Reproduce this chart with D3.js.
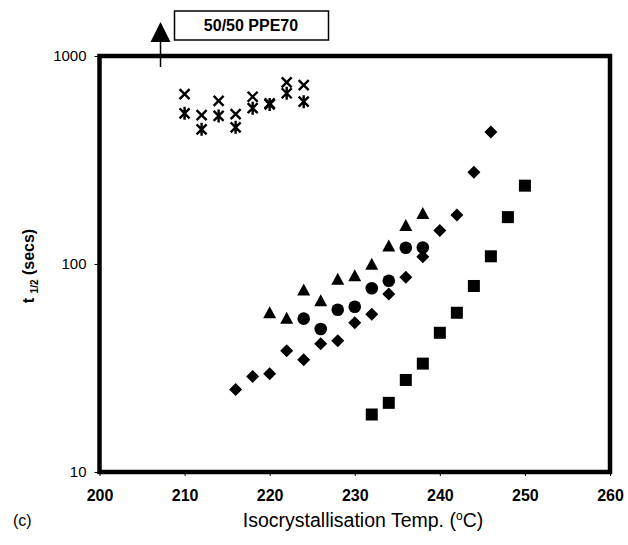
<!DOCTYPE html>
<html><head><meta charset="utf-8">
<script src="https://cdn.jsdelivr.net/npm/d3@7"></script>
<style>
body{margin:0;background:#fff;}
svg{display:block;font-family:"Liberation Sans",Arial,sans-serif;}
</style></head>
<body><svg id="c" width="628" height="545"></svg>
<script>
// ---- data ----
const xTicks = [200, 210, 220, 230, 240, 250, 260];
const yTicks = [10, 100, 1000];

const crossT = [210, 212, 214, 216, 218, 220, 222, 224];
const crossV = [656, 520, 608, 525, 637, 592, 747, 725];

const starT = [210, 212, 214, 216, 218, 220, 222, 224];
const starV = [530, 444, 515, 454, 561, 585, 662, 603];

const triT = [220, 222, 224, 226, 228, 230, 232, 234, 236, 238];
const triV = [58.3, 54.8, 75, 66.6, 84.4, 87.8, 99.7, 122, 153, 175];

const circT = [224, 226, 228, 230, 232, 234, 236, 238];
const circV = [54.6, 48.7, 60.3, 62.3, 76.4, 83.1, 119.8, 120];

const diaT = [216, 218, 220, 222, 224, 226, 228, 230, 232, 234, 236, 238, 240, 242, 244, 246];
const diaV = [24.9, 28.8, 29.7, 38.3, 34.6, 41.4, 42.8, 52.2, 57.3, 71.8, 86.3, 108.4, 145, 172, 276, 431];

const sqT = [232, 234, 236, 238, 240, 242, 244, 246, 248, 250];
const sqV = [18.9, 21.5, 27.7, 33.2, 46.7, 58.3, 78.4, 108.9, 168, 238];

const boxLabel = "50/50 PPE70";
const xTitle = "Isocrystallisation Temp. (";
const panelLabel = "(c)";

// ---- drawing ----
const svg = d3.select("#c");
const L = 99.5, R = 610, T = 56, B = 472;
const x = d3.scaleLinear().domain([200, 260]).range([L, R]);
const y = d3.scaleLog().domain([10, 1000]).range([B, T]);

// axes
const gx = svg.append("g").attr("transform", `translate(0,${B})`)
  .call(d3.axisBottom(x).tickValues(xTicks).tickFormat(d3.format("d")).tickSize(4).tickPadding(14));
const gy = svg.append("g").attr("transform", `translate(${L},0)`)
  .call(d3.axisLeft(y).tickValues(yTicks).tickFormat(d3.format("d")).tickSize(5).tickPadding(8));
[gx, gy].forEach(g => {
  g.select(".domain").remove();
  g.selectAll("line").attr("stroke", "#000").attr("stroke-width", 1);
  g.selectAll("text").attr("fill", "#000")
   .attr("font-family", '"Liberation Sans",Arial,sans-serif');
});
gx.selectAll("text").attr("font-size", 16).attr("font-weight", "bold");
gy.selectAll("text").attr("font-size", 15);

// frame
svg.append("rect").attr("x", L).attr("y", T).attr("width", R - L).attr("height", B - T)
  .attr("fill", "none").attr("stroke", "#000").attr("stroke-width", 4.5);

// markers
const pts = (T_, V_) => T_.map((t, i) => ({t, v: V_[i]}));
const g = svg.append("g");

g.selectAll(".sq").data(pts(sqT, sqV)).join("rect")
  .attr("x", d => x(d.t) - 6).attr("y", d => y(d.v) - 6)
  .attr("width", 12).attr("height", 12).attr("fill", "#000");

g.selectAll(".dia").data(pts(diaT, diaV)).join("path")
  .attr("d", d => { const cx = x(d.t), cy = y(d.v), r = 6.5;
    return `M${cx},${cy - r}L${cx + r},${cy}L${cx},${cy + r}L${cx - r},${cy}Z`; })
  .attr("fill", "#000");

g.selectAll(".circ").data(pts(circT, circV)).join("circle")
  .attr("cx", d => x(d.t)).attr("cy", d => y(d.v)).attr("r", 6.3).attr("fill", "#000");

g.selectAll(".tri").data(pts(triT, triV)).join("path")
  .attr("d", d => { const cx = x(d.t), cy = y(d.v);
    return `M${cx},${cy - 6.5}L${cx + 6.5},${cy + 5.5}L${cx - 6.5},${cy + 5.5}Z`; })
  .attr("fill", "#000");

g.selectAll(".cross").data(pts(crossT, crossV)).join("path")
  .attr("d", d => { const cx = x(d.t), cy = y(d.v), r = 5;
    return `M${cx - r},${cy - r}L${cx + r},${cy + r}M${cx + r},${cy - r}L${cx - r},${cy + r}`; })
  .attr("stroke", "#000").attr("stroke-width", 2.4).attr("fill", "none");

g.selectAll(".star").data(pts(starT, starV)).join("path")
  .attr("d", d => { const cx = x(d.t), cy = y(d.v), r = 5;
    return `M${cx - r},${cy - r}L${cx + r},${cy + r}M${cx + r},${cy - r}L${cx - r},${cy + r}M${cx},${cy - 6.5}L${cx},${cy + 6.5}`; })
  .attr("stroke", "#000").attr("stroke-width", 2.4).attr("fill", "none");

// annotation box + arrow
svg.append("rect").attr("x", 174.5).attr("y", 11).attr("width", 154).attr("height", 29)
  .attr("fill", "#fff").attr("stroke", "#000").attr("stroke-width", 1.5);
svg.append("text").attr("x", 251).attr("y", 31).attr("text-anchor", "middle")
  .attr("font-size", 16).attr("font-weight", "bold").text(boxLabel);
svg.append("line").attr("x1", 160.5).attr("x2", 160.5).attr("y1", 40).attr("y2", 67)
  .attr("stroke", "#000").attr("stroke-width", 1.5);
svg.append("path").attr("d", "M160.5,22L170.5,42L150.5,42Z").attr("fill", "#000");

// y title
const yt = svg.append("text").attr("transform", "translate(34,266) rotate(-90)")
  .attr("text-anchor", "middle").attr("font-size", 16).attr("font-weight", "bold");
yt.append("tspan").text("t ");
yt.append("tspan").attr("font-size", 10).attr("dy", 4).text("1/2");
yt.append("tspan").attr("dy", -4).text(" (secs)");

// x title
const xt = svg.append("text").attr("x", 363).attr("y", 527).attr("text-anchor", "middle")
  .attr("font-size", 19.5);
xt.append("tspan").text(xTitle);
xt.append("tspan").attr("font-size", 12).attr("dy", -7).text("o");
xt.append("tspan").attr("dy", 7).text("C)");

svg.append("text").attr("x", 13).attr("y", 526).attr("font-size", 16).text(panelLabel);
</script></body></html>
